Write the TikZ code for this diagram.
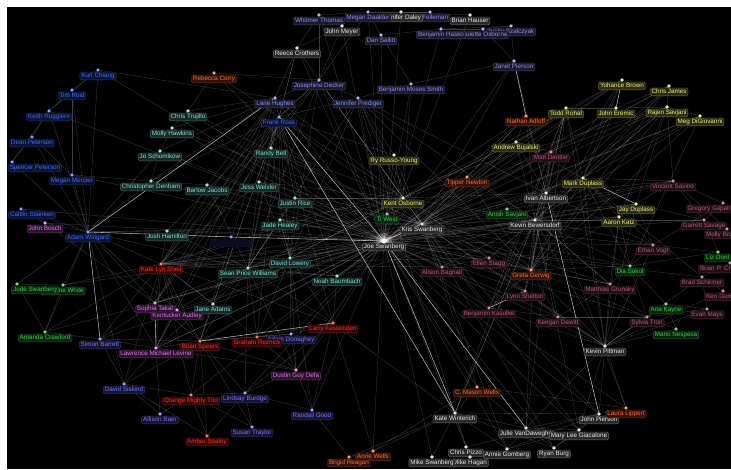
\documentclass[tikz,border=0pt]{standalone}
\usepackage{fontspec}
\setsansfont{Liberation Sans}
\usetikzlibrary{positioning,backgrounds}

\definecolor{biru}{HTML}{3F6BFF}
\definecolor{ungu}{HTML}{8C90EC}
\definecolor{nila}{HTML}{7474FF}
\definecolor{toska}{HTML}{7FE0D4}
\definecolor{kuning}{HTML}{EDED7A}
\definecolor{oranye}{HTML}{FF6A35}
\definecolor{merah}{HTML}{FF2A2A}
\definecolor{jambon}{HTML}{E070E8}
\definecolor{marun}{HTML}{B0587A}
\definecolor{hijau}{HTML}{3CC850}
\definecolor{putih}{HTML}{E6E6E6}

\tikzset{
  dot/.style={circle, inner sep=0pt, minimum size=3.2pt, fill=#1!45!white, draw=#1!80!black, line width=0.3pt},
  lbl/.style={rounded corners=1.5pt, fill=#1!18!black, draw=#1!45!black, line width=0.4pt, text=#1,
    font=\sffamily\fontsize{6.3}{7}\selectfont, inner xsep=1.5pt, inner ysep=1pt, text height=4.6pt, text depth=1.3pt},
  potong/.style={text width=60pt, align=left},
  tepi/.style={white, opacity=0.24, line width=0.3pt},
  tepiterang/.style={white, opacity=0.7, line width=0.55pt},
}

% simpul: titik + label di bawahnya
\newcommand{\orang}[6][]{%
  \node[dot=#5] (#2) at (#3,#4) {};
  \node[lbl=#5, below=0pt of #2, #1] (#2-l) {#6};}

\begin{document}
\begin{tikzpicture}[x=1pt, y=-1pt]
    \useasboundingbox (0,0) rectangle (731,469);

    % Simpul bagian atas
    \orang{ianf}{430}{12}{ungu}{Ian Felleman}
    \orang{jenniferd}{401}{12}{putih}{Jennifer Daley}
    \orang{megand}{368}{12}{ungu}{Megan Daalder}
    \orang{whitmer}{319}{15}{ungu}{Whitmer Thomas}
    \orang{brianh}{470}{15}{putih}{Brian Hauser}
    \orang{johnm}{342}{26}{putih}{John Meyer}
    \orang{dans}{381}{35}{ungu}{Dan Sallitt}
    \orang{justin}{511}{26}{ungu}{Justin Szalczyak}
    \orang{paulette}{483}{29}{ungu}{Paulette Osborne}
    \orang{benh}{441}{29}{ungu}{Benjamin Hasko}
    \orang{reece}{297}{48}{putih}{Reece Crothers}
    \orang{janet}{514}{61}{ungu}{Janet Pierson}
    \orang{kurt}{98}{70}{biru}{Kurt Chiang}
    \orang{rebecca}{214}{73}{oranye}{Rebecca Corry}
    \orang{josephine}{319}{80}{ungu}{Josephine Decker}
    \orang{benms}{411}{84}{ungu}{Benjamin Moses Smith}
    \orang{yohance}{622}{80}{kuning}{Yohance Brown}
    \orang{chrisj}{669}{86}{kuning}{Chris James}
    \orang{tim}{72}{90}{biru}{Tim Reid}
    \orang{lane}{275}{98}{ungu}{Lane Hughes}
    \orang{jenp}{358}{98}{ungu}{Jennifer Prediger}
    \orang{todd}{566}{108}{kuning}{Todd Rohal}
    \orang{johne}{616}{108}{kuning}{John Eremic}
    \orang{rajen}{667}{107}{kuning}{Rajen Savjani}
    \orang{keith}{49}{111}{biru}{Keith Ruggiero}
    \orang{christ}{188}{111}{toska}{Chris Trujillo}
    \orang{meg}{700}{116}{kuning}{Meg DiGiovanni}
    \orang{nathan}{526}{116}{oranye}{Nathan Adloff}
    \orang{frank}{279}{117}{biru}{Frank Ross}
    \orang{molly}{172}{128}{toska}{Molly Hawkins}
    \orang{dean}{32}{137}{biru}{Dean Peterson}
    \orang{andrew}{516}{142}{kuning}{Andrew Bujalski}
    \orang{randy}{271}{148}{toska}{Randy Bell}
    \orang{jo}{160}{151}{toska}{Jo Schomikow}
    \orang{mattd}{551}{152}{marun}{Matt Dentler}
    \orang{ry}{394}{155}{kuning}{Ry Russo-Young}

    % Simpul bagian tengah
    \orang[xshift=23pt]{spencer}{12}{162}{biru}{Spencer Peterson}
    \orang{meganm}{72}{175}{biru}{Megan Mercier}
    \orang{tipper}{467}{177}{oranye}{Tipper Newton}
    \orang{mark}{583}{178}{kuning}{Mark Duplass}
    \orang{vincent}{673}{181}{marun}{Vincent Savino}
    \orang{chrisd}{151}{181}{toska}{Christopher Denham}
    \orang{barlow}{207}{185}{toska}{Barlow Jacobs}
    \orang{jess}{259}{182}{toska}{Jess Weixler}
    \orang{ivan}{546}{193}{putih}{Ivan Albertson}
    \orang{justinr}{295}{198}{toska}{Justin Rice}
    \orang{kent}{403}{198}{kuning}{Kent Osborne}
    \orang[potong, xshift=-5.5pt]{gregory}{723}{203}{marun}{Gregory Gilpatr}
    \orang{jay}{636}{204}{kuning}{Jay Duplass}
    \orang[xshift=11pt]{caitlin}{21}{209}{biru}{Caitlin Stainken}
    \orang{anish}{507}{209}{hijau}{Anish Savjani}
    \orang{tiwest}{387}{214}{hijau}{Ti West}
    \orang{aaron}{619}{217}{kuning}{Aaron Katz}
    \orang{kevinb}{535}{220}{putih}{Kevin Bewersdorf}
    \orang{garrett}{704}{220}{marun}{Garrett Savage}
    \orang{jade}{280}{220}{toska}{Jade Healey}
    \orang{johnb}{45}{223}{jambon}{John Bosch}
    \orang{kris}{422}{224}{putih}{Kris Swanberg}
    \orang[potong, xshift=9pt]{mollyb}{727}{229}{marun}{Molly Bru}
    \orang{joshh}{167}{231}{toska}{Josh Hamilton}
    \orang{adam}{88}{232}{biru}{Adam Wingard}
    \node[dot=biru] (misteri) at (231,237) {};
    \node[lbl=biru, fill=biru!12!black, draw=biru!25!black, minimum width=42pt, below=0pt of misteri] (misteri-l) {};
    \orang{joe}{384}{241}{putih}{Joe Swanberg}
    \orang{ethan}{653}{245}{marun}{Ethan Vogt}
    \orang[potong, xshift=18pt]{liz}{718}{252}{hijau}{Liz Donl}
    \orang{david}{290}{258}{toska}{David Lowery}
    \orang{ellen}{489}{258}{marun}{Ellen Stagg}
    \orang[potong]{brianp}{730}{263}{marun}{Brian P. Cl}
    \orang{kate}{161}{264}{merah}{Kate Lyn Sheil}
    \orang{dia}{630}{266}{hijau}{Dia Sokol}
    \orang{alison}{442}{267}{marun}{Alison Bagnall}
    \orang{sean}{248}{268}{toska}{Sean Price Williams}
    \orang{greta}{531}{270}{oranye}{Greta Gerwig}
    \orang{noah}{337}{276}{toska}{Noah Baumbach}
    \orang{brad}{702}{277}{marun}{Brad Schirmer}
    \orang{matthias}{610}{284}{marun}{Matthias Grunsky}
    \orang{caroline}{63}{285}{hijau}{Caroline White}
    \orang[xshift=18pt]{jude}{17}{284}{hijau}{Jude Swanberg}
    \orang[potong, xshift=13pt]{ken}{723}{291}{marun}{Ken Gum}
    \orang{lynn}{525}{291}{marun}{Lynn Shelton}
    \orang{sophia}{155}{303}{jambon}{Sophia Takal}
    \orang{jane}{213}{304}{toska}{Jane Adams}
    \orang{ana}{666}{304}{hijau}{Ana Kayne}
    \orang{benk}{489}{308}{marun}{Benjamin Kasulke}
    \orang{evan}{707}{309}{marun}{Evan Mays}
    \orang{kentucker}{177}{310}{jambon}{Kentucker Audley}
    \orang{keegan}{558}{317}{marun}{Keegan Dewitt}
    \orang{sylvia}{647}{317}{marun}{Sylvia Tron}

    % Simpul bagian bawah
    \orang{larry}{333}{323}{merah}{Larry Fessenden}
    \orang{mario}{676}{329}{hijau}{Mario Nespeca}
    \orang{amanda}{45}{332}{hijau}{Amanda Crawford}
    \orang{adamd}{291}{334}{nila}{Adam Donaghey}
    \orang{graham}{257}{337}{merah}{Graham Reznick}
    \orang{simon}{100}{339}{nila}{Simon Barrett}
    \orang{brian}{200}{341}{merah}{Brian Spears}
    \orang{kevinp}{605}{346}{putih}{Kevin Pittman}
    \orang{lawrence}{156}{348}{jambon}{Lawrence Michael Levine}
    \orang{dustin}{296}{370}{jambon}{Dustin Guy Defa}
    \orang{davids}{124}{384}{nila}{David Siskind}
    \orang{cmason}{477}{387}{oranye}{C. Mason Wells}
    \orang{lindsay}{245}{393}{nila}{Lindsay Burdge}
    \orang{orange}{191}{395}{merah}{Orange Mighty Trio}
    \orang{randall}{312}{410}{nila}{Randall Good}
    \orang{katew}{455}{413}{putih}{Kate Winterich}
    \orang{johnp}{599}{414}{putih}{John Pierson}
    \orang{laura}{626}{408}{oranye}{Laura Lippert}
    \orang{allison}{160}{414}{nila}{Allison Baer}
    \orang{susan}{252}{427}{nila}{Susan Traylor}
    \orang{julie}{526}{428}{putih}{Julie VanDaweghe}
    \orang{marylee}{579}{430}{putih}{Mary Lee Giacalone}
    \orang{amber}{207}{436}{merah}{Amber Sealey}
    \orang{chrisp}{466}{447}{putih}{Chris Pizzo}
    \orang{ryan}{554}{448}{putih}{Ryan Burg}
    \orang{annie}{507}{449}{putih}{Annie Gomberg}
    \orang{anne}{373}{451}{oranye}{Anne Wells}
    \orang{mikeh}{470}{457}{putih}{Mike Hagan}
    \orang{mikes}{432}{457}{putih}{Mike Swanberg}
    \orang{brigid}{349}{457}{oranye}{Brigid Reagan}
    \fill[white] (joe.center) circle (2.6pt);

    % Latar dan garis hubungan
    \begin{pgfonlayer}{background}
    \fill[white] (0,0) rectangle (731,469);
    \fill[black] (7,7) rectangle (731,469);
    \fill[white, opacity=0.2] (joe.center) circle (8pt);
    \fill[white, opacity=0.3] (joe.center) circle (5pt);
    \foreach \p/\ds in {
      joe/{kris,kent,tiwest,ry,tipper,ivan,kevinb,greta,alison,ellen,lynn,benk,david,noah,sean,jade,justinr,jess,randy,lane,josephine,jenp,benms,reece,johnm,dans,janet,nathan,andrew,mark,jay,aaron,todd,johne,rajen,mattd,vincent,kevinp,johnp,marylee,chrisp,annie,larry,graham,brian,kate,sophia,kentucker,lawrence,dustin,adamd,joshh,chrisd,barlow,jo,molly,christ,simon,meganm,caitlin,keith,kurt,jane,amanda,caroline,johnb,cmason,laura,anne,ryan,mikes,dia,ethan,matthias,keegan,sylvia,garrett,brad,anish,whitmer,megand,jenniferd,brianh,benh,yohance,chrisj,meg,rebecca,davids,lindsay,randall,orange},
      kris/{kent,ivan,kevinb,greta,tipper,mark,jay,andrew,nathan,lynn,benk,alison,kevinp,frank,adam,kate,sophia,lawrence,david,jade,ry,todd,dia,ethan,matthias,johnp,ellen,noah,jess,josephine,janet,vincent,christ,molly,barlow,justinr,randy,cmason,marylee,ryan,annie},
      frank/{kate,sophia,lawrence,brian,graham,larry,david,sean,jess,randy,justinr,jade,joshh,chrisd,lane,reece,josephine,rebecca,ry,kent,noah,jane},
      adam/{chrisd,jo,joshh,johnb,caitlin,meganm,spencer,dean,kate,amanda,jude,caroline,sophia,kentucker,kurt,tim,keith,davids,lawrence},
      kate/{caroline,sophia,kentucker,jane,lawrence,brian,graham,larry,sean,david,noah,simon,amanda,davids,orange,joshh,jess,barlow,alison,ellen},
      brian/{graham,adamd,dustin,orange,lindsay,amber,susan,simon,lawrence,sophia,kentucker,jane},
      greta/{ellen,lynn,benk,alison,keegan,matthias,ivan,kevinb,mark,jay,tipper,kevinp,dia,mattd,sylvia},
      mark/{aaron,ivan,vincent,andrew,kevinb,rajen,johne,todd,meg,chrisj,kevinp,dia,ethan,yohance,brad},
      ivan/{vincent,andrew,nathan,kevinb,todd,anish,mattd,katew,ethan,laura,janet},
      kevinp/{kevinb,jay,ethan,matthias,sylvia,mario,ana,brad,evan,ken,laura,johnp,keegan,aaron,julie,marylee,lynn,benk},
      kevinb/{tipper,nathan,andrew,mattd,alison,ellen,lynn,benk,keegan,matthias,dia,ethan,sylvia,jay,aaron,vincent,garrett,kate,sean,david,noah,julie,marylee,katew,todd,rajen,meg},
      kent/{tipper,nathan,andrew,ivan,kevinb,greta,ellen,alison,sean,david,jade,justinr,jess,randy,jenp,benms,lane,kate},
      sean/{joshh,barlow,jess,justinr,randy,jade,noah,graham,larry,dustin,lindsay,brian,sophia,kentucker,lawrence,adam},
      david/{larry,dustin,randall,graham,justinr,jess,jade,randy,kent},
      lane/{sophia,kate,brian,lawrence,jo,chrisd,barlow,molly,christ,kurt},
      jenp/{katew,greta,kevinb,ivan,kris,david,sean,frank},
      todd/{katew,greta,lynn,benk,julie},
      rajen/{kate,sean,ivan,greta,aaron,jay},
      yohance/{kris,kent,andrew,ivan,greta},
      chrisj/{kris,kevinb,ivan,greta},
      meg/{kris,greta,dia},
      josephine/{kate,sophia,kris,kent,david,sean,frank},
      larry/{graham,dustin,noah,katew,randall,lindsay,anne},
      johnp/{laura,marylee,julie,ryan,annie,katew,chrisp},
      vincent/{rajen,gregory,garrett,mollyb,jay},
      katew/{chrisp,annie,julie,mikes,mikeh,cmason,anne,brigid,ryan}}
      {\foreach \q in \ds {\draw[tepi] (\p) -- (\q);}}
    \foreach \a/\b in {janet/benms,janet/brianh,janet/justin,josephine/reece,josephine/lane,josephine/whitmer,
      josephine/johnm,josephine/megand,josephine/jenp,lane/reece,lane/randy,reece/johnm,reece/whitmer,reece/randy,
      johne/rajen,johne/todd,johne/chrisj,rajen/meg,rajen/chrisj,andrew/nathan,andrew/todd,andrew/kent,
      andrew/mattd,simon/amanda,simon/davids,simon/lawrence,simon/sophia,lawrence/kentucker,lawrence/davids,
      lawrence/allison,lawrence/dustin,davids/allison,davids/orange,davids/amber,orange/amber,orange/lindsay,
      orange/allison,orange/susan,lindsay/susan,lindsay/randall,lindsay/amber,lindsay/dustin,dustin/adamd,
      dustin/randall,dustin/graham,adamd/graham,adamd/larry,adamd/david,david/noah,david/sean,david/jade,sean/jane,
      chrisd/barlow,chrisd/jo,chrisd/meganm,molly/christ,molly/jo,kurt/tim,kurt/keith,tim/keith,tim/meganm,
      keith/dean,keith/spencer,dean/spencer,dean/meganm,caitlin/johnb,johnb/sophia,amanda/caroline,amanda/jude,
      jude/caroline,anne/brigid,anne/cmason,brigid/randall,cmason/julie,cmason/laura,julie/marylee,julie/annie,
      julie/ryan,marylee/ryan,marylee/annie,ellen/alison,ellen/lynn,keegan/benk,keegan/lynn,keegan/sylvia,sylvia/ana,
      sylvia/mario,sylvia/evan,ana/mario,ana/evan,brad/ken,brad/evan,brad/brianp,garrett/gregory,garrett/mollyb,
      garrett/liz,ethan/liz,ethan/gregory,dia/ethan,dia/matthias,dia/ana,dia/liz,dia/sylvia,matthias/keegan,
      tipper/nathan,ry/kent,ry/jenp,tiwest/kent,anish/kevinb,whitmer/megand,whitmer/johnm,
      megand/jenniferd,megand/dans,jenniferd/ianf,jenniferd/brianh,benh/paulette,benh/justin,benh/dans,
      paulette/justin,rebecca/christ,rebecca/josephine,benms/jenp,benms/dans,todd/kevinp,aaron/jay,aaron/dia,
      aaron/matthias,jay/ethan,jay/garrett}
      \draw[tepi] (\a) -- (\b);
    \foreach \a/\b in {adam/misteri,misteri/joe,mark/jay,brian/larry,lynn/benk,katew/joe,frank/joe,ivan/johnp,
      kris/joe,julie/joe,adam/lane,sophia/lawrence,simon/adam,johne/yohance,janet/nathan,frank/katew}
      \draw[tepiterang] (\a) -- (\b);
    \end{pgfonlayer}
\end{tikzpicture}
\end{document}
